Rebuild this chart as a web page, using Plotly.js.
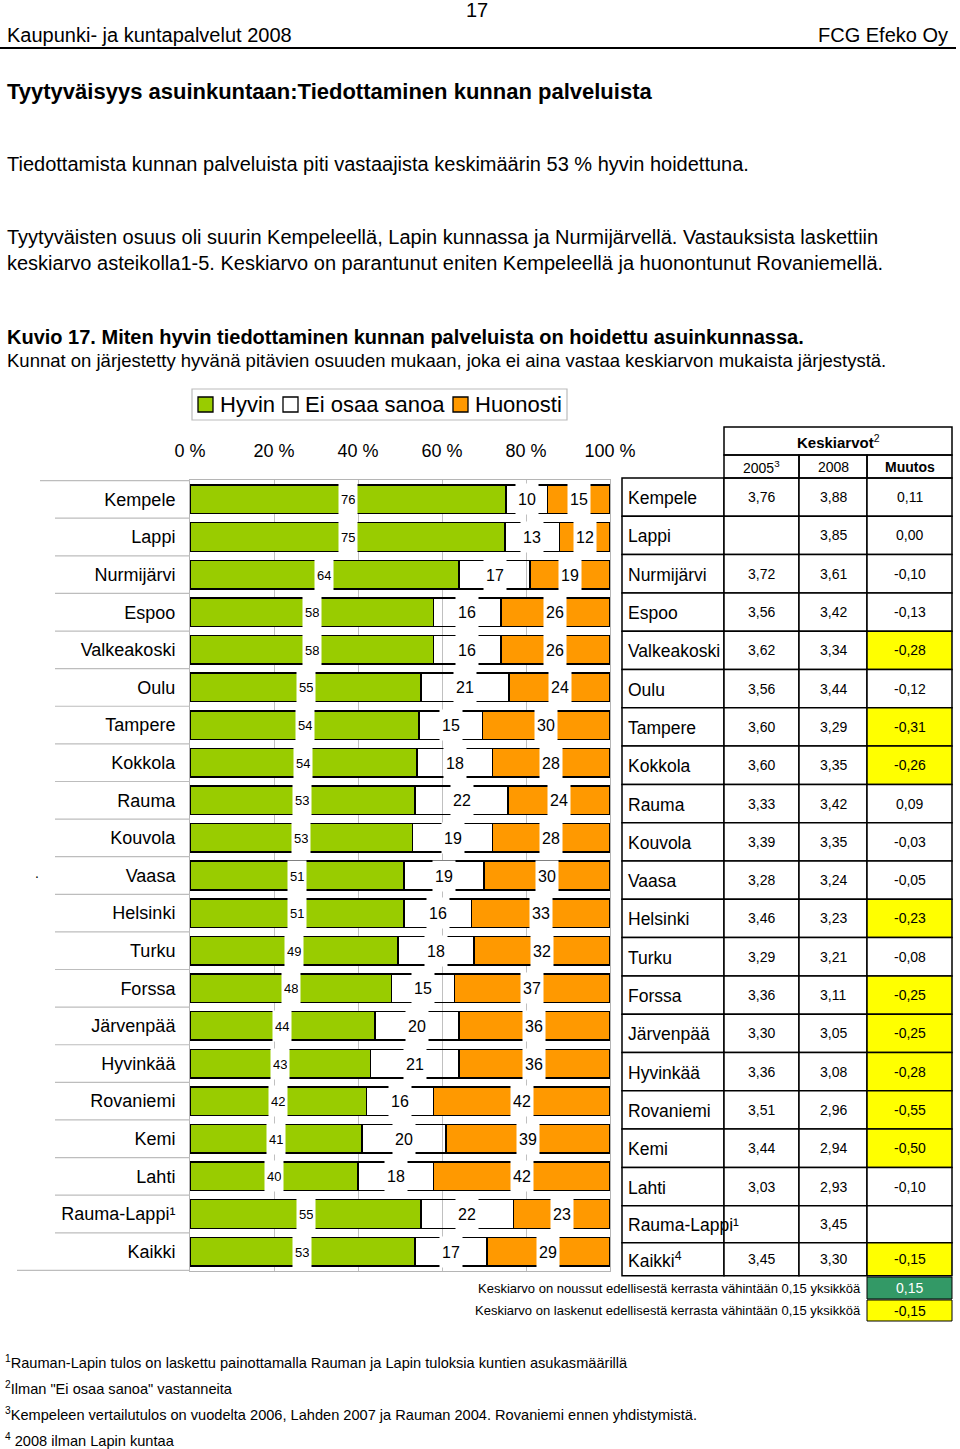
<!DOCTYPE html>
<html>
<head>
<meta charset="utf-8">
<script src="https://cdn.plot.ly/plotly-3.0.1.min.js"></script>
<style>html,body{margin:0;padding:0;background:#fff;}#chart{width:960px;height:1449px;}</style>
</head>
<body>
<div id="chart"></div>
<script>
// ---- DATA ----
const categories = ["Kempele","Lappi","Nurmijärvi","Espoo","Valkeakoski","Oulu","Tampere","Kokkola","Rauma","Kouvola","Vaasa","Helsinki","Turku","Forssa","Järvenpää","Hyvinkää","Rovaniemi","Kemi","Lahti","Rauma-Lappi¹","Kaikki"];
const seriesNames = ["Hyvin","Ei osaa sanoa","Huonosti"];
const hyvin    = [76,75,64,58,58,55,54,54,53,53,51,51,49,48,44,43,42,41,40,55,53];
const eiOsaa   = [10,13,17,16,16,21,15,18,22,19,19,16,18,15,20,21,16,20,18,22,17];
const huonosti = [15,12,19,26,26,24,30,28,24,28,30,33,32,37,36,36,42,39,42,23,29];
const tickVals = [0,20,40,60,80,100];
const tickText = ["0 %","20 %","40 %","60 %","80 %","100 %"];

const tableNames = ["Kempele","Lappi","Nurmijärvi","Espoo","Valkeakoski","Oulu","Tampere","Kokkola","Rauma","Kouvola","Vaasa","Helsinki","Turku","Forssa","Järvenpää","Hyvinkää","Rovaniemi","Kemi","Lahti","Rauma-Lappi¹","Kaikki<sup>4</sup>"];
const avg2005 = ["3,76","","3,72","3,56","3,62","3,56","3,60","3,60","3,33","3,39","3,28","3,46","3,29","3,36","3,30","3,36","3,51","3,44","3,03","","3,45"];
const avg2008 = ["3,88","3,85","3,61","3,42","3,34","3,44","3,29","3,35","3,42","3,35","3,24","3,23","3,21","3,11","3,05","3,08","2,96","2,94","2,93","3,45","3,30"];
const muutos  = ["0,11","0,00","-0,10","-0,13","-0,28","-0,12","-0,31","-0,26","0,09","-0,03","-0,05","-0,23","-0,08","-0,25","-0,25","-0,28","-0,55","-0,50","-0,10","","-0,15"];

// ---- helpers ----
const W = 960, H = 1449;
const px = x => x / W;
const py = y => 1 - y / H;
const FONT = "Liberation Sans, Arial, sans-serif";
const GREEN = "#99CC00", ORANGE = "#FF9900", YELLOW = "#FFFF00", DGREEN = "#339966";
const WHITE_SEG = "rgba(255,255,255,0)";
const seriesColors = [GREEN, WHITE_SEG, ORANGE];

const traces = [hyvin, eiOsaa, huonosti].map((vals, k) => ({
  type:"bar", orientation:"h", name:seriesNames[k], y:categories, x:vals,
  marker:{color:seriesColors[k], line:{color:"#000", width:1.5}}, hoverinfo:"skip", showlegend:false
}));

const annotations = [];
const shapes = [];
function txt(x, y, t, size, anchor, color) {
  annotations.push({xref:"paper", yref:"paper", x:px(x), y:py(y), xanchor:anchor || "center", yanchor:"middle",
    text:t, showarrow:false, font:{family:FONT, size:size, color:color || "#000"}});
}

// bar labels
categories.forEach((c, i) => {
  const s = hyvin[i] + eiOsaa[i] + huonosti[i];
  const g = hyvin[i] / s * 100, w = eiOsaa[i] / s * 100, o = huonosti[i] / s * 100;
  const segs = [[g/2, hyvin[i], 13], [g + w/2, eiOsaa[i], 16], [g + w + o/2, huonosti[i], 16]];
  segs.forEach(([xc, v, fs]) => {
    annotations.push({x:xc, y:c, xref:"x", yref:"y", xanchor:"center", yanchor:"middle", text:String(v), showarrow:false,
      bgcolor:"#fff", borderpad:2, height:26, font:{family:FONT, size:fs, color:"#000"}});
  });
});

// left row separators
for (let k = 0; k <= categories.length; k++) {
  let x0 = 55;
  if (k === 0) x0 = 40;
  if (k === categories.length) x0 = 17;
  shapes.push({type:"line", xref:"paper", yref:"y", x0:px(x0), x1:px(190), y0:k - 0.5, y1:k - 0.5,
    line:{color:"#bdbdbd", width:1.2}});
}

// ---- legend (box with swatches) ----
shapes.push({type:"rect", xref:"paper", yref:"paper", x0:px(192), x1:px(567), y0:py(420), y1:py(389),
  line:{color:"#bbb", width:1.2}, fillcolor:"#fff"});
const legX = [198, 283, 453];
seriesNames.forEach((n, k) => {
  shapes.push({type:"rect", xref:"paper", yref:"paper", x0:px(legX[k]), x1:px(legX[k] + 15), y0:py(412), y1:py(397),
    line:{color:"#000", width:1.3}, fillcolor:seriesColors[k] === WHITE_SEG ? "#fff" : seriesColors[k]});
  txt(legX[k] + 20, 405, n, 22, "left");
});

// ---- table ----
const colX = [622, 724, 799, 867, 952];
const rowTops = [];
let yy = 478;
for (let i = 0; i < tableNames.length; i++) {
  rowTops.push(yy);
  yy += (i < 19) ? 38.3 : (i === 19 ? 37 : 33);
}
rowTops.push(yy);
const cellLine = {color:"#000", width:1.5};
shapes.push({type:"rect", xref:"paper", yref:"paper", x0:px(724), x1:px(952), y0:py(455), y1:py(427), line:cellLine});
for (let c = 1; c < 4; c++) {
  shapes.push({type:"rect", xref:"paper", yref:"paper", x0:px(colX[c]), x1:px(colX[c+1]), y0:py(478), y1:py(455), line:cellLine});
}
txt(838, 441, "<b>Keskiarvot</b><sup>2</sup>", 15);
const subHead = ["2005<sup>3</sup>", "2008", "<b>Muutos</b>"];
subHead.forEach((t, j) => txt((colX[j+1] + colX[j+2]) / 2, 467, t, 14));

tableNames.forEach((n, i) => {
  const t = rowTops[i], b = rowTops[i+1];
  const mv = muutos[i];
  const num = parseFloat(mv.replace(",", "."));
  const fillM = (!isNaN(num) && num <= -0.15) ? YELLOW : (!isNaN(num) && num >= 0.15 ? DGREEN : "#fff");
  const fills = ["#fff", "#fff", "#fff", fillM];
  for (let c = 0; c < 4; c++) {
    shapes.push({type:"rect", xref:"paper", yref:"paper", x0:px(colX[c]), x1:px(colX[c+1]), y0:py(b), y1:py(t),
      line:cellLine, fillcolor:fills[c], layer:"below"});
  }
  const yc = (t + b) / 2;
  txt(626, yc + 1, n, 17.5, "left");
  [avg2005[i], avg2008[i], mv].forEach((v, j) => {
    if (v === "") return;
    txt((colX[j+1] + colX[j+2]) / 2, yc, v, 14);
  });
});

// table legend
const legRows = [
  {t:1277, b:1299, fill:DGREEN, val:"0,15", col:"#fff", txt:"Keskiarvo on noussut edellisestä kerrasta vähintään 0,15 yksikköä"},
  {t:1300, b:1321, fill:YELLOW, val:"-0,15", col:"#000", txt:"Keskiarvo on laskenut edellisestä kerrasta vähintään 0,15 yksikköä"}
];
legRows.forEach(r => {
  shapes.push({type:"rect", xref:"paper", yref:"paper", x0:px(867), x1:px(952), y0:py(r.b), y1:py(r.t),
    line:{color:"#000", width:1}, fillcolor:r.fill});
  txt(909.5, (r.t + r.b) / 2, r.val, 14, "center", r.col);
  txt(863, (r.t + r.b) / 2, r.txt, 13, "right");
});

// ---- page texts ----
txt(477, 10, "17", 20);
txt(5, 35, "Kaupunki- ja kuntapalvelut 2008", 20, "left");
txt(950, 35, "FCG Efeko Oy", 20, "right");
txt(5, 91, "<b>Tyytyväisyys asuinkuntaan:Tiedottaminen kunnan palveluista</b>", 22, "left");
txt(5, 164, "Tiedottamista kunnan palveluista piti vastaajista keskimäärin 53 % hyvin hoidettuna.", 20, "left");
txt(5, 237, "Tyytyväisten osuus oli suurin Kempeleellä, Lapin kunnassa ja Nurmijärvellä. Vastauksista laskettiin", 20, "left");
txt(5, 263, "keskiarvo asteikolla1-5. Keskiarvo on parantunut eniten Kempeleellä ja huonontunut Rovaniemellä.", 20, "left");
txt(5, 337, "<b>Kuvio 17. Miten hyvin tiedottaminen kunnan palveluista on hoidettu asuinkunnassa.</b>", 20, "left");
txt(5, 361, "Kunnat on järjestetty hyvänä pitävien osuuden mukaan, joka ei aina vastaa keskiarvon mukaista järjestystä.", 18.5, "left");
txt(3, 1362, "<sup>1</sup>Rauman-Lapin tulos on laskettu painottamalla Rauman ja Lapin tuloksia kuntien asukasmäärillä", 14.6, "left");
txt(3, 1388, "<sup>2</sup>Ilman \"Ei osaa sanoa\" vastanneita", 14.6, "left");
txt(3, 1414, "<sup>3</sup>Kempeleen vertailutulos on vuodelta 2006, Lahden 2007 ja Rauman 2004. Rovaniemi ennen yhdistymistä.", 14.6, "left");
txt(3, 1440, "<sup>4</sup> 2008 ilman Lapin kuntaa", 14.6, "left");
txt(37, 873, ".", 14);
shapes.push({type:"line", xref:"paper", yref:"paper", x0:0, x1:px(956), y0:py(48), y1:py(48), line:{color:"#000", width:2}});

const layout = {
  width:W, height:H, margin:{l:0, r:0, t:0, b:0},
  paper_bgcolor:"#fff", plot_bgcolor:"#fff",
  barmode:"stack", barnorm:"percent", bargap:0.24,
  font:{family:FONT, color:"#000"},
  showlegend:false,
  xaxis:{domain:[px(190), px(610)], range:[0,100], side:"top", tickvals:tickVals, ticktext:tickText,
    showgrid:true, gridcolor:"#c0c0c0", gridwidth:1, zeroline:false,
    showline:true, linecolor:"#b5b5b5", linewidth:1, mirror:true,
    ticks:"outside", ticklen:15, tickcolor:"rgba(0,0,0,0)",
    tickfont:{family:FONT, size:18, color:"#000"}, fixedrange:true},
  yaxis:{domain:[py(1271), py(480)], type:"category", autorange:"reversed",
    showgrid:false, showline:true, linecolor:"#b5b5b5", linewidth:1, mirror:true,
    ticks:"outside", ticklen:10, tickcolor:"rgba(0,0,0,0)",
    tickfont:{family:FONT, size:18, color:"#000"}, fixedrange:true},
  annotations:annotations,
  shapes:shapes
};

Plotly.newPlot("chart", traces, layout, {staticPlot:true, displayModeBar:false});
</script>
</body>
</html>
